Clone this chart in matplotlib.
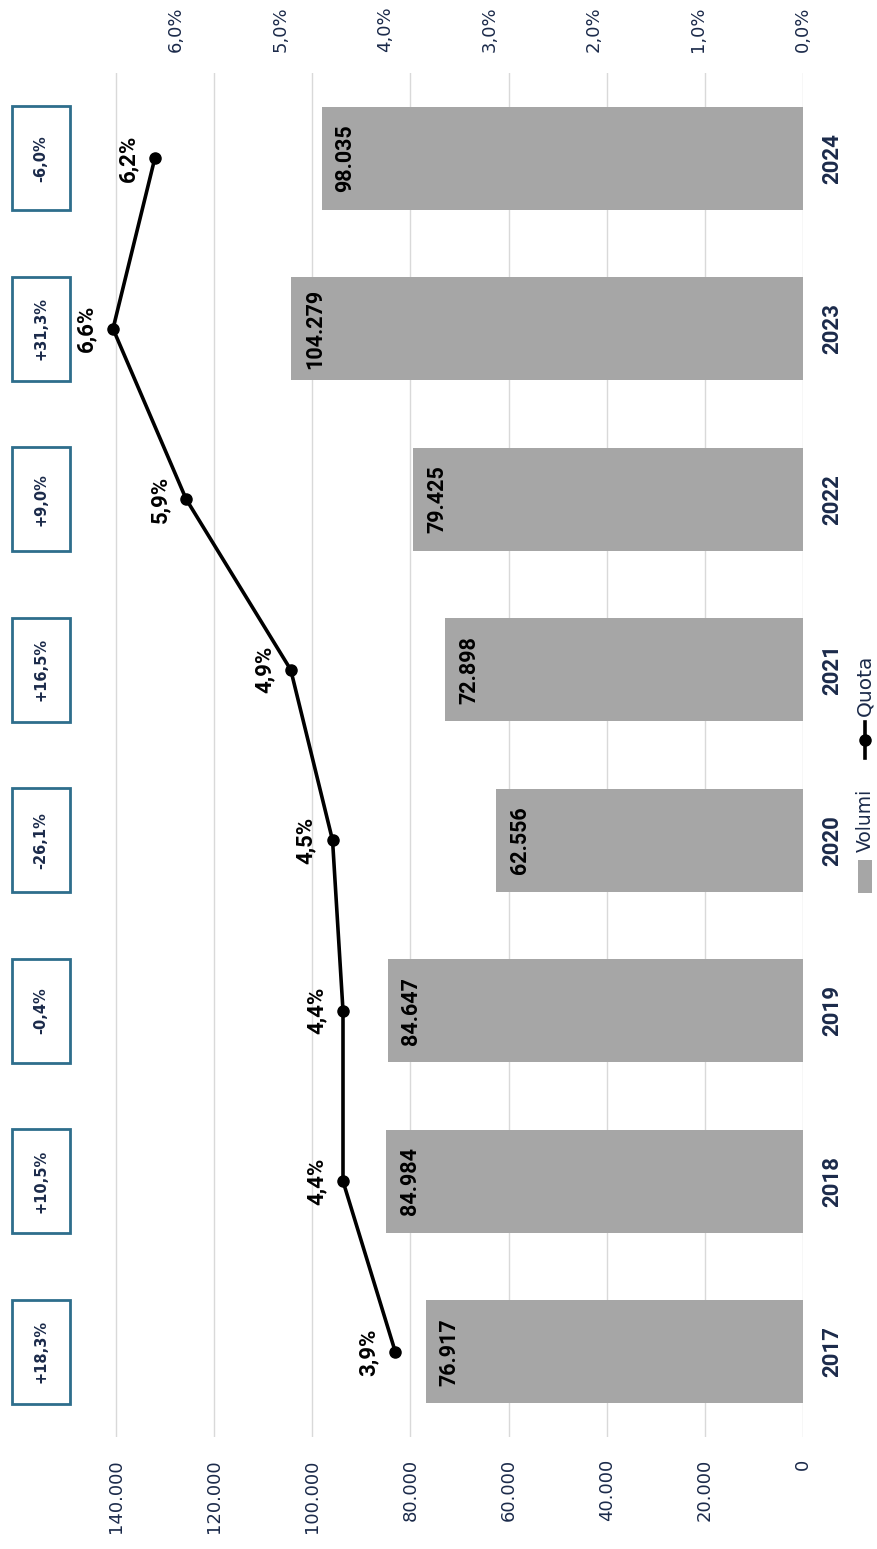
import numpy as np
import matplotlib.pyplot as plt
import matplotlib.transforms as mtransforms
from matplotlib.patches import Rectangle
from matplotlib.lines import Line2D

plt.rcParams['font.family'] = 'DejaVu Sans'
BOLD = ['Roboto', 'DejaVu Sans']

# dati
anni = ['2017', '2018', '2019', '2020', '2021', '2022', '2023', '2024']
volumi = [76917, 84984, 84647, 62556, 72898, 79425, 104279, 98035]
quota = [3.9, 4.4, 4.4, 4.5, 4.9, 5.9, 6.6, 6.2]
variazione = ['+18,3%', '+10,5%', '-0,4%', '-26,1%', '+16,5%', '+9,0%', '+31,3%', '-6,0%']
tick_volumi = [0, 20000, 40000, 60000, 80000, 100000, 120000, 140000]
tick_quota = [0, 1, 2, 3, 4, 5, 6]

navy = '#1B2A4A'
teal = '#2E6E8C'
grigio = '#A6A6A6'
W, H = 877, 1549


def fmt_migliaia(v):
    return f"{v:,.0f}".replace(',', '.')


def fmt_perc(v):
    return f"{v:.1f}%".replace('.', ',')


fig = plt.figure(figsize=(W / 100, H / 100), dpi=100)
ax = fig.add_axes([67 / W, 1 - 1437 / H, (803 - 67) / W, (1437 - 73) / H])

y = np.arange(len(anni))
ax.barh(y, volumi, height=0.606, color=grigio, zorder=2)
ax.set_xlim(150000, 0)
ax.set_ylim(-0.5, len(anni) - 0.5)
ax.set_xticks(tick_volumi)
ax.set_xticklabels([fmt_migliaia(v) for v in tick_volumi], rotation=90,
                   color=navy, fontsize=13)
ax.tick_params(axis='x', length=0, pad=16)
ax.grid(axis='x', color='#D9D9D9', lw=1)
ax.set_axisbelow(True)
for s in ax.spines.values():
    s.set_visible(False)

ax.yaxis.tick_right()
ax.set_yticks(y)
ax.set_yticklabels(anni, rotation=90, fontweight='bold', color=navy,
                   fontsize=16, va='center', family=BOLD)
ax.tick_params(axis='y', length=0, pad=13)

# etichette volumi dentro la barra
for i, v in enumerate(volumi):
    ax.annotate(fmt_migliaia(v), xy=(v, i), xytext=(17, 0),
                textcoords='offset points', rotation=90, ha='center',
                va='center', fontweight='bold', fontsize=15.5, color='black',
                family=BOLD, zorder=3)

# quota di mercato sull'asse secondario
ax2 = ax.twiny()
ax2.set_xlim(7.04, 0)
ax2.plot(quota, y, color='black', lw=2.6, marker='o', ms=8, zorder=5,
         clip_on=False)
ax2.set_xticks(tick_quota)
ax2.set_xticklabels([fmt_perc(v) for v in tick_quota], rotation=90,
                    color=navy, fontsize=13)
ax2.tick_params(axis='x', length=0, pad=15)
for s in ax2.spines.values():
    s.set_visible(False)

for i, q in enumerate(quota):
    ax2.annotate(fmt_perc(q), xy=(q, i), xytext=(-19, 0),
                 textcoords='offset points', rotation=90, ha='center',
                 va='center', fontweight='bold', fontsize=16, color='black',
                 family=BOLD)

# riquadri con la variazione annua
trans = mtransforms.blended_transform_factory(fig.transFigure, ax.transData)
for i, t in enumerate(variazione):
    ax.add_patch(Rectangle((12 / W, i - 0.306), 58 / W, 0.612, transform=trans,
                           facecolor='white', edgecolor=teal, lw=2,
                           clip_on=False, zorder=4))
    ax.text(41 / W, i, t, transform=trans, rotation=90, ha='center',
            va='center', fontweight='bold', fontsize=10.5, color=navy,
            zorder=5, clip_on=False)

# legenda
fig.add_artist(Rectangle((858 / W, 1 - 893 / H), 14 / W, 33 / H,
                         transform=fig.transFigure, facecolor=grigio,
                         edgecolor='none'))
fig.text(865 / W, 1 - 852 / H, 'Volumi', rotation=90, ha='center',
         va='bottom', fontsize=13.5, color=navy)
fig.add_artist(Line2D([865 / W, 865 / W], [1 - 758 / H, 1 - 722 / H],
                      transform=fig.transFigure, color='black', lw=2.6))
fig.add_artist(Line2D([865 / W], [1 - 740 / H], transform=fig.transFigure,
                      color='black', marker='o', ms=8))
fig.text(865 / W, 1 - 716 / H, 'Quota', rotation=90, ha='center',
         va='bottom', fontsize=14.5, color=navy)

fig.savefig('out.png', dpi=100)
